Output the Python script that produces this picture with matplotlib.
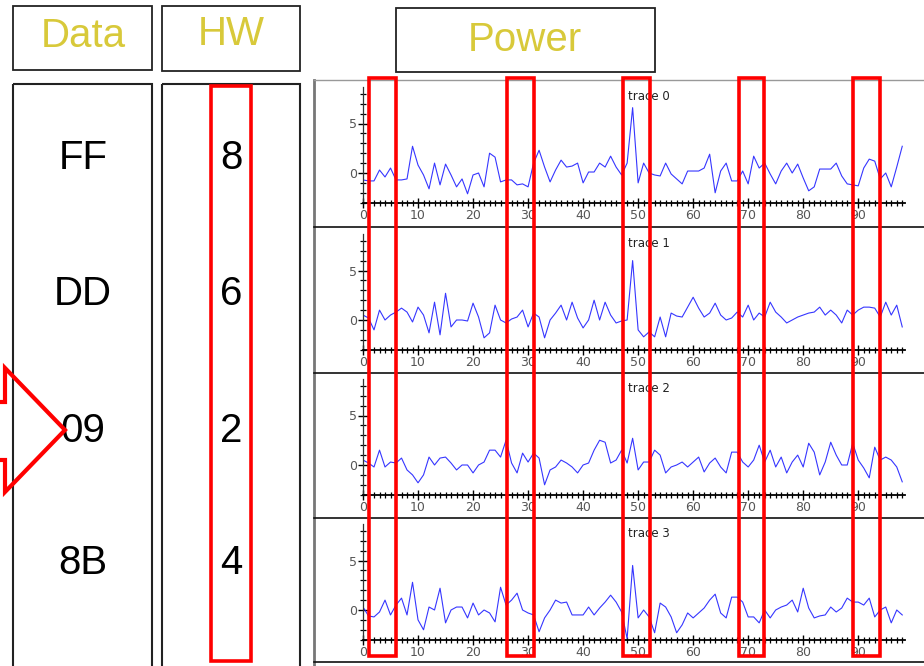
import numpy as np
import matplotlib
matplotlib.use("Agg")
import matplotlib.pyplot as plt
from matplotlib.patches import Rectangle, Polygon
from matplotlib.ticker import MultipleLocator, FixedLocator

# ---------------- data ----------------
headers = ["Data", "HW", "Power"]
data_labels = ["FF", "DD", "09", "8B"]
hw_values = ["8", "6", "2", "4"]

trace0 = [-0.7, -0.8, -0.8, 0.3, -0.4, 0.5, -0.7, -0.7, -0.6, 2.7,
          0.8, -0.2, -1.6, 1.0, -1.2, 0.9, -0.2, -1.4, -0.6, -2.1,
          -0.2, 0.0, -1.4, 2.0, 1.6, -0.9, -0.7, -0.7, -1.2, -1.1,
          -1.4, 1.0, 2.3, 0.6, -0.9, 0.3, 1.3, 0.6, 0.7, 1.0,
          -1.0, 0.1, 0.1, 1.0, 0.6, 1.7, 0.6, -0.2, 1.0, 6.6,
          -1.0, 1.0, 0.0, -0.2, -0.3, 1.0, -0.1, -0.6, -1.1, 0.2,
          0.2, 0.2, 0.5, 1.9, -2.0, 0.2, 1.0, -0.8, -0.8, 0.2,
          -1.1, 1.7, 0.5, 1.0, -0.1, -1.1, 0.2, 1.0, 0.0, 0.9,
          -0.5, -1.8, -1.4, 0.4, 0.4, 0.4, 1.0, -0.3, -1.1, -1.2,
          -1.3, 0.5, 1.4, 1.2, -0.6, 0.0, -1.4, 0.6, 2.7]
trace1 = [0.5, 0.2, -1.0, 1.0, 0.0, 0.5, 0.8, 1.2, 0.8, -0.2,
          1.3, 0.5, -1.3, 1.8, -1.5, 2.7, -0.7, 0.0, 0.0, -0.1,
          1.7, 0.3, -1.8, -1.3, 1.5, 0.0, -0.3, 0.1, 0.3, 1.0,
          -0.7, 0.7, 0.3, -1.8, 0.0, 0.7, 1.5, 0.0, 1.8, 0.2,
          -0.8, 0.0, 2.0, 0.0, 1.8, 0.5, -0.3, -0.1, 0.0, 6.0,
          -1.0, -1.7, -1.2, -1.7, 0.3, -1.7, 0.7, 0.4, 0.3, 1.3,
          2.3, 1.2, 0.3, 0.7, 1.7, 0.5, 0.0, 0.2, 0.8, 0.3,
          1.5, 0.0, 0.7, 0.3, 1.8, 0.8, 0.3, -0.3, 0.0, 0.3,
          0.5, 0.7, 0.8, 1.3, 0.5, 1.0, 0.5, -0.3, 1.0, 0.5,
          1.0, 1.3, 1.3, 1.2, 0.3, 1.8, 0.5, 1.5, -0.7]
trace2 = [0.5, 0.2, -0.2, 1.5, -0.2, 0.3, 0.2, 0.7, -0.5, -1.0,
          -1.8, -1.0, 0.8, 0.0, 0.7, 0.8, 0.2, -0.5, 0.0, 0.0,
          -0.8, 0.0, 0.3, 1.5, 1.5, 0.8, 2.5, 0.2, -0.8, 1.2,
          0.3, 1.2, 0.7, -2.0, -0.5, -0.2, 0.5, 0.2, -0.2, -0.8,
          0.0, 0.2, 1.5, 2.5, 2.3, 0.2, 0.5, 1.5, 0.2, 2.7,
          -0.5, 0.3, 0.3, 1.5, 1.0, -0.8, -0.2, 0.0, 0.3, -0.2,
          0.3, 0.8, -0.7, 0.2, 0.7, -0.2, -0.8, 1.3, 1.3, 0.3,
          -0.2, 0.5, 2.0, 0.3, 1.5, -0.2, 0.8, -0.8, 0.3, 1.0,
          -0.2, 2.2, 1.3, -1.0, 0.3, 2.3, 1.0, 0.0, 0.0, 2.2,
          0.5, -0.3, -1.3, 1.8, 0.5, 0.8, 0.5, -0.2, -1.7]
trace3 = [0.3, -0.6, -0.7, -0.2, 1.0, -0.5, 0.5, 1.2, -0.5, 2.8,
          -1.0, -2.0, 0.3, 0.0, 2.2, -1.3, 0.0, 0.3, 0.3, -0.8,
          0.7, -0.5, 0.0, -0.3, -1.2, 2.3, 0.5, 1.0, 1.7, 0.0,
          -0.3, -0.5, -2.2, -0.8, 0.0, 1.0, 0.7, 0.8, -0.5, -0.5,
          -0.5, 0.3, -0.5, 0.2, 0.8, 1.5, 0.8, -0.2, -2.9, 4.5,
          -0.8, 0.0, -0.7, -2.3, 0.7, 0.3, -0.7, -2.3, -1.5, -0.3,
          -0.8, -0.3, 0.2, 1.0, 1.6, -0.3, -0.8, 1.3, 1.3, 0.8,
          -0.7, -0.7, -1.3, 0.0, -0.8, 0.0, 0.3, 0.5, 1.0, -0.2,
          2.2, 0.2, -0.8, -0.6, -0.5, 0.3, -0.2, 0.2, 1.2, 0.8,
          0.8, 0.5, 1.2, -0.7, 0.0, 0.3, -1.3, 0.0, -0.5]
traces = [trace0, trace1, trace2, trace3]

# ---------------- layout (pixels of the 924x666 picture) ----------------
W, H = 924, 666
row_y = [157, 293, 430, 562]
zero_px = [173, 320, 465, 610]
panel_tops = [82, 227, 373, 518, 662]
px_unit = 9.9
ylo, yhi = -3, 8.7
x_left, x_right = 363, 905
yellow = "#d8c93a"
big = dict(family="Liberation Sans", fontsize=29)
half_cap = 12  # baseline offset so caps are centred on the row

fig = plt.figure(figsize=(W / 100, H / 100), dpi=100)

# background axes in pixel units
bg = fig.add_axes([0, 0, 1, 1])
bg.set_xlim(0, W)
bg.set_ylim(H, 0)
bg.axis("off")


def box(ax, x0, y0, x1, y1, **kw):
    ax.add_patch(Rectangle((x0, y0), x1 - x0, y1 - y0, fill=False, **kw))


# header boxes + column boxes
box(bg, 13, 6, 152, 70, ec="#222222", lw=1.3)
box(bg, 162, 6, 300, 71, ec="#222222", lw=1.3)
box(bg, 396, 8, 655, 72, ec="#222222", lw=1.3)
box(bg, 13, 84, 152, 690, ec="#222222", lw=1.5)
box(bg, 162, 84, 300, 690, ec="#222222", lw=1.5)

bg.text(83, 35 + half_cap, headers[0], color=yellow, ha="center", va="baseline", **big)
bg.text(231, 33 + half_cap, headers[1], color=yellow, ha="center", va="baseline", **big)
bg.text(525, 39 + half_cap, headers[2], color=yellow, ha="center", va="baseline", **big)

for y, lab, hw in zip(row_y, data_labels, hw_values):
    bg.text(83, y + half_cap, lab, color="black", ha="center", va="baseline", **big)
    bg.text(231, y + half_cap, hw, color="black", ha="center", va="baseline", **big)

# power panel frame
bg.plot([314, 314], [80, 666], color="#777777", lw=2)
bg.plot([314, W], [80, 80], color="#999999", lw=1)
for yy in panel_tops[1:]:
    bg.plot([314, W], [yy, yy], color="#111111", lw=1.2)

# ---------------- trace axes ----------------
for i, tr in enumerate(traces):
    bot_px = zero_px[i] - ylo * px_unit
    top_px = zero_px[i] - yhi * px_unit
    ax = fig.add_axes([x_left / W, 1 - bot_px / H,
                       (x_right - x_left) / W, (bot_px - top_px) / H])
    ax.patch.set_visible(False)
    ax.plot(np.arange(len(tr)), tr, color="#2020ff", lw=0.8, alpha=0.9)
    ax.set_xlim(0, 98.5)
    ax.set_ylim(ylo, yhi)
    ax.spines["top"].set_visible(False)
    ax.spines["right"].set_visible(False)
    ax.spines["left"].set_color("#333333")
    ax.spines["left"].set_linewidth(0.9)
    ax.spines["bottom"].set_linewidth(1.3)
    ax.xaxis.set_major_locator(MultipleLocator(10))
    ax.xaxis.set_minor_locator(MultipleLocator(1))
    ax.yaxis.set_major_locator(FixedLocator([0, 5]))
    ax.yaxis.set_minor_locator(MultipleLocator(1))
    ax.tick_params(which="major", direction="inout", length=7, width=1,
                   labelsize=9, labelcolor="#555555", pad=1)
    ax.tick_params(which="minor", direction="inout", length=4, width=0.9)
    ax.text(48.2, 7.7, "trace %d" % i, fontsize=8.5, color="#222222", va="center")

# ---------------- red highlight overlay ----------------
ov = fig.add_axes([0, 0, 1, 1], zorder=10)
ov.set_xlim(0, W)
ov.set_ylim(H, 0)
ov.axis("off")
ov.patch.set_visible(False)

red_cols = [(369, 396), (507, 534), (623, 650), (739, 764), (853, 880)]
for x0, x1 in red_cols:
    box(ov, x0, 78, x1, 656, ec="#ff0000", lw=2.6)
box(ov, 211, 86, 251, 661, ec="#ff0000", lw=2.6)

arrow = [(-5, 402), (5, 402), (5, 368), (65, 430), (5, 492), (5, 460), (-5, 460)]
ov.add_patch(Polygon(arrow, closed=False, fill=False, ec="#ff0000", lw=3,
                     joinstyle="miter"))

fig.savefig("out.png", dpi=100)
